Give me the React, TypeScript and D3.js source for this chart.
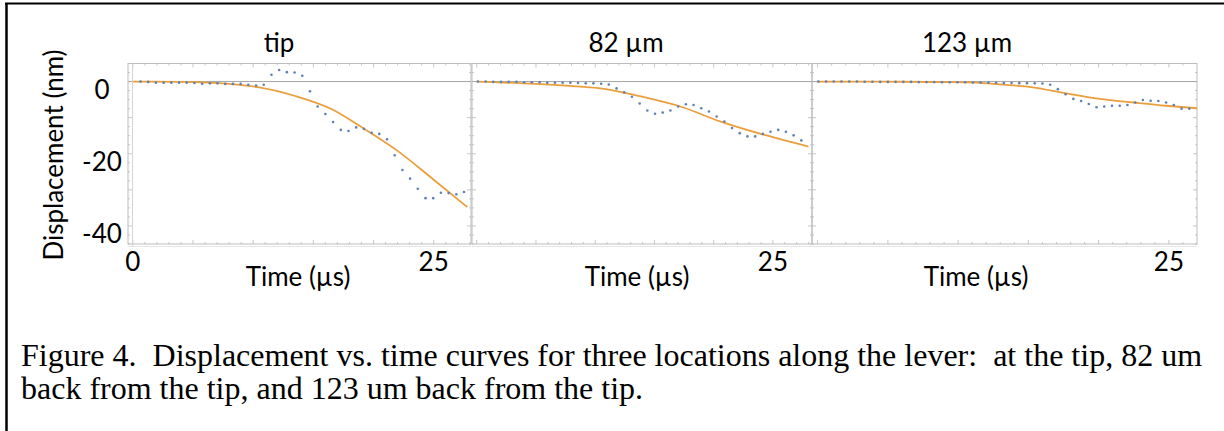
import * as d3 from "d3";

// sample times (µs) and displacement (nm)
const tipTime = [0.64, 1.28, 1.92, 2.56, 3.2, 3.84, 4.48, 5.12, 5.76, 6.4, 7.04, 7.68, 8.32, 8.96, 9.6, 10.24, 10.88, 11.52, 12.16, 12.8, 13.44, 14.08, 14.72, 15.36, 16.0, 16.64, 17.28, 17.92, 18.56, 19.2, 19.84, 20.48, 21.12, 21.76, 22.4, 23.04, 23.68, 24.32, 24.96, 25.6, 26.24, 26.88, 27.52];
const tipData = [0, -0.1, -0.3, -0.3, -0.3, -0.3, -0.3, -0.4, -0.6, -0.5, -0.5, -0.65, -0.65, -0.65, -0.9, -1.1, -0.9, 1.9, 3.2, 2.6, 2.5, 1.6, -2.7, -6.9, -9.0, -11.2, -13.4, -13.7, -12.7, -13.1, -14.2, -14.5, -16.0, -20.4, -24.5, -26.9, -29.7, -32.3, -32.3, -30.8, -30.9, -31.2, -30.6];
const tipFitTime = [0, 4, 8, 10.5, 13.5, 16.5, 19, 22, 25, 27.8];
const tipFit = [0, -0.1, -0.65, -1.6, -4.0, -7.6, -12.6, -19.2, -27.2, -34.8];

const mid82Time = [0.1, 0.75, 1.4, 2.05, 2.7, 3.35, 4.0, 4.65, 5.3, 5.95, 6.6, 7.25, 7.9, 8.55, 9.2, 9.85, 10.5, 11.15, 11.8, 12.45, 13.1, 13.75, 14.4, 15.05, 15.7, 16.35, 17.0, 17.65, 18.3, 18.95, 19.6, 20.25, 20.9, 21.55, 22.2, 22.85, 23.5, 24.15, 24.8, 25.45, 26.1, 26.75, 27.4];
const mid82Data = [0, 0, -0.1, -0.1, -0.1, -0.1, -0.2, -0.2, -0.2, -0.3, -0.3, -0.3, -0.3, -0.4, -0.5, -0.5, -0.6, -0.8, -1.9, -3.0, -4.2, -6.1, -8.0, -8.9, -8.6, -8.0, -6.9, -6.3, -6.5, -7.4, -8.3, -9.7, -11.1, -12.9, -14.3, -15.2, -15.2, -14.5, -13.9, -13.4, -13.9, -14.9, -16.3];
const mid82FitTime = [0, 5, 7.8, 10.3, 12.6, 14.5, 17, 20.6, 24.3, 28];
const mid82Fit = [0, -0.65, -1.2, -1.85, -3.2, -4.6, -6.7, -11.1, -14.8, -18.0];

const far123Time = [0.05, 0.6, 1.15, 1.7, 2.25, 2.8, 3.35, 3.9, 4.45, 5.0, 5.55, 6.1, 6.65, 7.2, 7.75, 8.3, 8.85, 9.4, 9.95, 10.5, 11.05, 11.6, 12.15, 12.7, 13.25, 13.8, 14.35, 14.9, 15.45, 16.0, 16.55, 17.1, 17.65, 18.2, 18.75, 19.3, 19.85, 20.4, 20.95, 21.5, 22.05, 22.6, 23.15, 23.7, 24.25, 24.8, 25.35, 25.9, 26.45];
const far123Data = [0, 0, 0, 0, 0, 0, -0.05, -0.05, -0.1, -0.1, -0.1, -0.1, -0.1, -0.15, -0.15, -0.15, -0.2, -0.2, -0.2, -0.2, -0.25, -0.25, -0.3, -0.35, -0.4, -0.4, -0.45, -0.45, -0.5, -0.55, -0.9, -2.1, -3.5, -4.8, -5.4, -6.2, -7.1, -6.9, -6.7, -6.7, -6.5, -5.8, -5.1, -5.3, -5.4, -5.8, -6.5, -7.5, -7.5];
const far123FitTime = [0, 6, 9, 11.3, 13, 15.3, 17.7, 20.1, 22.5, 24.8, 27];
const far123Fit = [0, -0.05, -0.15, -0.3, -0.8, -1.6, -3.3, -4.8, -5.8, -6.7, -7.4];

const titles = ["tip", "82 µm", "123 µm"];
const yTickLabels = [0, -20, -40];
const captionLines = [
  "Figure 4.\u00a0 Displacement vs. time curves for three locations along the lever:\u00a0 at the tip, 82 um",
  "back from the tip, and 123 um back from the tip.",
];

const W = 1224;
const H = 431;
const top = 63.5;
const bottom = 244;
const blue = "#5E81B5";
const orange = "#EC9E3C";
const sans = "Lato, 'Open Sans', sans-serif";

const yScale = d3.scaleLinear().domain([-45, 5]).range([bottom, top]);

const panels = [
  { title: titles[0], t: tipTime, v: tipData, ft: tipFitTime, fv: tipFit, range: [128, 471], domain: [-0.4, 28.1], titleX: 279, labelX: 298, zeroLabel: true },
  { title: titles[1], t: mid82Time, v: mid82Data, ft: mid82FitTime, fv: mid82Fit, range: [472, 812], domain: [-0.4, 28.3], titleX: 626, labelX: 637, zeroLabel: false },
  { title: titles[2], t: far123Time, v: far123Data, ft: far123FitTime, fv: far123Fit, range: [812, 1197], domain: [-0.4, 27.0], titleX: 967, labelX: 976, zeroLabel: false },
];

const Panel = ({ p }: { p: (typeof panels)[number] }) => {
  const x = d3.scaleLinear().domain(p.domain).range(p.range);
  const [x0, x1] = p.range;
  const line = d3
    .line<number>()
    .x((_, i) => x(p.ft[i]))
    .y((d) => yScale(d))
    .curve(d3.curveMonotoneX);

  const yMajor = d3.range(-40, 5.1, 10);
  const yMinor = d3.range(-45, 5.1, 2.5);
  const xMajor = d3.range(0, p.domain[1], 5);
  const xMinor = d3.range(0, p.domain[1], 1);

  return (
    <g>
      {/* frame ticks */}
      <g stroke="#b8b8b8" strokeWidth={0.8}>
        {yMinor.map((v) => {
          const len = yMajor.includes(v) ? 4 : 2;
          return (
            <g key={"y" + v}>
              <line x1={x0} x2={x0 + len} y1={yScale(v)} y2={yScale(v)} />
              <line x1={x1} x2={x1 - len} y1={yScale(v)} y2={yScale(v)} />
            </g>
          );
        })}
        {xMinor.map((t) => {
          const len = xMajor.includes(t) ? 4 : 2;
          return (
            <g key={"x" + t}>
              <line x1={x(t)} x2={x(t)} y1={top} y2={top + len} />
              <line x1={x(t)} x2={x(t)} y1={bottom} y2={bottom - len} />
            </g>
          );
        })}
      </g>
      <line x1={x0} x2={x1} y1={yScale(0)} y2={yScale(0)} stroke="#a6a6a6" strokeWidth={1} />
      <rect x={x0} y={top} width={x1 - x0} height={bottom - top} fill="none" stroke="#bcbcbc" strokeWidth={1} />
      <line x1={x0} x2={x1} y1={bottom + 2.5} y2={bottom + 2.5} stroke="#e4e4e4" strokeWidth={1} />
      {p.zeroLabel && (
        <line x1={x0 + 4.5} x2={x0 + 4.5} y1={top} y2={bottom + 2.5} stroke="#d4d4d4" strokeWidth={1} />
      )}

      <path d={line(p.fv) ?? ""} fill="none" stroke={orange} strokeWidth={1.8} />
      {p.v.map((d, i) => (
        <circle key={i} cx={x(p.t[i])} cy={yScale(d)} r={1.3} fill={blue} />
      ))}

      <text x={p.titleX} y={52} textAnchor="middle" fontFamily={sans} fontSize={26}>
        {p.title}
      </text>
      {p.zeroLabel && (
        <text x={x(0)} y={bottom + 27} textAnchor="middle" fontFamily={sans} fontSize={26}>
          0
        </text>
      )}
      <text x={x(25)} y={bottom + 27} textAnchor="middle" fontFamily={sans} fontSize={26}>
        25
      </text>
      <text x={p.labelX} y={286} textAnchor="middle" fontFamily={sans} fontSize={26}>
        Time (µs)
      </text>
    </g>
  );
};

export default function App() {
  return (
    <svg
      width={W}
      height={H}
      style={{ position: "absolute", left: 0, top: 0, background: "#fff" }}
    >
      <rect x={0} y={0} width={W} height={H} fill="#fff" />
      <line x1={5} x2={W} y1={3.5} y2={3.5} stroke="#000" strokeWidth={2} />
      <line x1={6.5} x2={6.5} y1={3} y2={H} stroke="#000" strokeWidth={2.5} />

      {panels.map((p) => (
        <Panel key={p.title} p={p} />
      ))}

      {yTickLabels.map((v) => (
        <text key={v} x={102} y={yScale(v) + 17} textAnchor="middle" fontFamily={sans} fontSize={26}>
          {v}
        </text>
      ))}
      <text
        transform={`translate(63, 155) rotate(-90)`}
        textAnchor="middle"
        fontFamily={sans}
        fontSize={26}
      >
        Displacement (nm)
      </text>

      <g fontFamily="'Liberation Serif', 'Times New Roman', serif" fontSize={32}>
        {captionLines.map((s, i) => (
          <text key={i} x={21} y={366 + i * 33}>
            {s}
          </text>
        ))}
      </g>
    </svg>
  );
}
